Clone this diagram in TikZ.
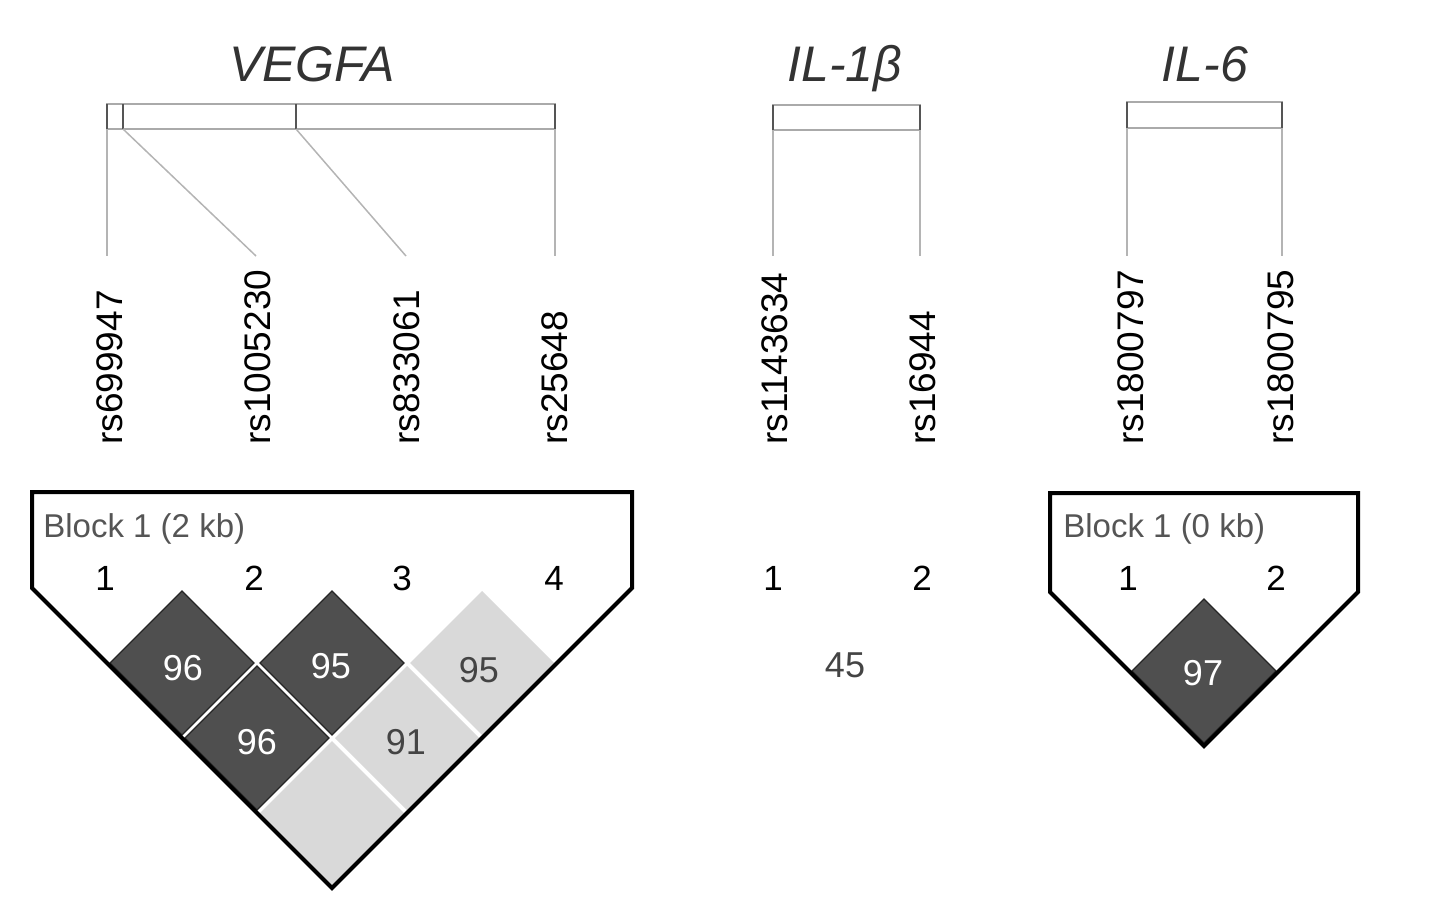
\documentclass[tikz,border=0pt]{standalone}
\usepackage{fontspec}
\setmainfont{Liberation Sans}
\definecolor{titlegray}{HTML}{333333}
\definecolor{linegray}{HTML}{B4B4B4}
\definecolor{bargray}{HTML}{AAAAAA}
\definecolor{tickgray}{HTML}{555555}
\definecolor{darkfill}{HTML}{4F4F4F}
\definecolor{lightfill}{HTML}{D9D9D9}
\definecolor{blockgray}{HTML}{555555}
\definecolor{numgray}{HTML}{444444}
\begin{document}
\begin{tikzpicture}[x=0.5pt,y=-0.5pt,
  title/.style={font=\fontsize{25}{30}\selectfont\itshape, text=titlegray, inner sep=0, anchor=base},
  snp/.style={font=\fontsize{18.5}{22}\selectfont, rotate=90, anchor=west, inner sep=0, text=black},
  conn/.style={draw=linegray, line width=0.75pt},
  genebar/.style={draw=bargray, line width=0.8pt},
  tickmark/.style={draw=tickgray, line width=1.2pt},
  ldoutline/.style={draw=black, line width=2pt, line join=miter},
  darkcell/.style={fill=darkfill, draw=black!85, line width=0.6pt},
  lightcell/.style={fill=lightfill},
  blocklab/.style={font=\fontsize{16.5}{20}\selectfont, text=blockgray, anchor=west, inner sep=0},
  idx/.style={font=\fontsize{17.5}{21}\selectfont, text=black, inner sep=0},
  darknum/.style={font=\fontsize{18}{21}\selectfont, text=white, inner sep=0},
  lightnum/.style={font=\fontsize{18}{21}\selectfont, text=numgray, inner sep=0}
]
\useasboundingbox (0,0) rectangle (1441,909);
\def\hd{72}
% ---------- titles ----------
\node[title] (tVEGFA) at (312,82) {VEGFA};
\node[title] (tIL1) at (845,82) {IL-1β};
\node[title] (tIL6) at (1205,82) {IL-6};
% ---------- VEGFA gene bar ----------
\draw[genebar] (107,104) rectangle (555,129);
\foreach \x in {107,123,296,555} \draw[tickmark] (\x,104) -- (\x,129);
\coordinate (v1) at (107,129);
\coordinate (v2) at (123,129);
\coordinate (v3) at (296,129);
\coordinate (v4) at (555,129);
\coordinate (e1) at (107,256);
\coordinate (e2) at (256,256);
\coordinate (e3) at (406,256);
\coordinate (e4) at (555,256);
\draw[conn] (v1) -- (e1);
\draw[conn] (v2) -- (e2);
\draw[conn] (v3) -- (e3);
\draw[conn] (v4) -- (e4);
% ---------- IL-1b gene bar ----------
\draw[genebar] (773,105) rectangle (920,130);
\foreach \x in {773,920} \draw[tickmark] (\x,105) -- (\x,130);
\coordinate (i1) at (773,130);
\coordinate (i2) at (920,130);
\coordinate (f1) at (773,256);
\coordinate (f2) at (920,256);
\draw[conn] (i1) -- (f1);
\draw[conn] (i2) -- (f2);
% ---------- IL-6 gene bar ----------
\draw[genebar] (1127,102) rectangle (1282,128);
\foreach \x in {1127,1282} \draw[tickmark] (\x,102) -- (\x,128);
\coordinate (j1) at (1127,128);
\coordinate (j2) at (1282,128);
\coordinate (g1) at (1127,256);
\coordinate (g2) at (1282,256);
\draw[conn] (j1) -- (g1);
\draw[conn] (j2) -- (g2);
% ---------- SNP labels ----------
\node[snp] (s1) at (110,445) {rs699947};
\node[snp] (s2) at (258,445) {rs1005230};
\node[snp] (s3) at (407,445) {rs833061};
\node[snp] (s4) at (555,445) {rs25648};
\node[snp] (s5) at (775,445) {rs1143634};
\node[snp] (s6) at (923,445) {rs16944};
\node[snp] (s7) at (1131,445) {rs1800797};
\node[snp] (s8) at (1281,445) {rs1800795};
% ---------- VEGFA LD block ----------
\foreach \cx/\cy/\st in {182/663/darkcell,332/663/darkcell,482/663/lightcell,257/738/darkcell,407/738/lightcell,332/813/lightcell}
  \path[\st] (\cx,\cy-\hd) -- (\cx+\hd,\cy) -- (\cx,\cy+\hd) -- (\cx-\hd,\cy) -- cycle;
\node[darknum] (c12) at (183,668) {96};
\node[darknum] (c23) at (331,666) {95};
\node[lightnum] (c34) at (479,670) {95};
\node[darknum] (c13) at (257,742) {96};
\node[lightnum] (c24) at (406,742) {91};
\draw[ldoutline] (32,588) -- (32,492) -- (632,492) -- (632,588) -- (332,888) -- cycle;
\node[blocklab] (b1) at (43,529) {Block 1 (2 kb)};
\node[idx] (n1) at (105,578) {1};
\node[idx] (n2) at (254,578) {2};
\node[idx] (n3) at (402,578) {3};
\node[idx] (n4) at (554,578) {4};
% ---------- IL-1b ----------
\node[idx] (m1) at (773,578) {1};
\node[idx] (m2) at (922,578) {2};
\node[lightnum] (d12) at (845,665) {45};
% ---------- IL-6 LD block ----------
\path[darkcell] (1204,671-\hd) -- (1204+\hd,671) -- (1204,671+\hd) -- (1204-\hd,671) -- cycle;
\node[darknum] (k12) at (1203,673) {97};
\draw[ldoutline] (1050,592) -- (1050,493) -- (1358,493) -- (1358,592) -- (1204,746) -- cycle;
\node[blocklab] (b2) at (1063,529) {Block 1 (0 kb)};
\node[idx] (p1) at (1128,578) {1};
\node[idx] (p2) at (1276,578) {2};
\end{tikzpicture}
\end{document}
